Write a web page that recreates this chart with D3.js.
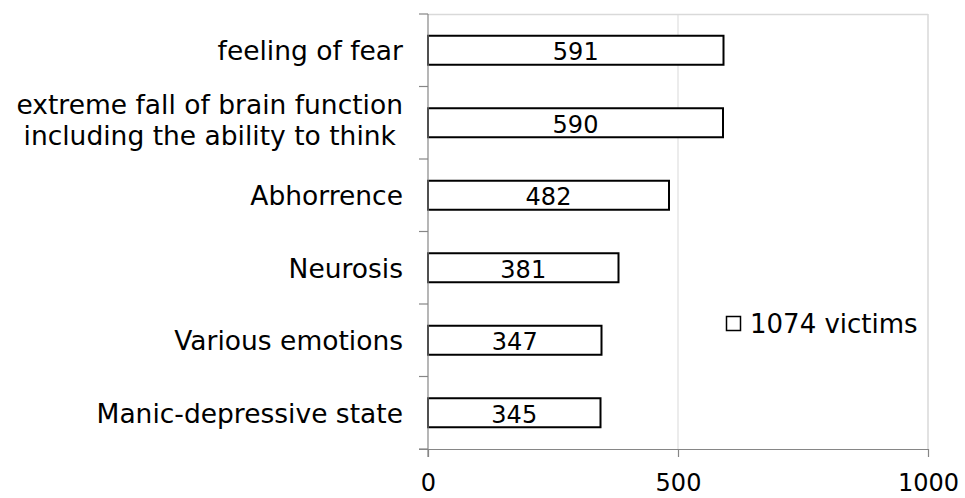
<!DOCTYPE html>
<html>
<head>
<meta charset="utf-8">
<script src="https://cdn.jsdelivr.net/npm/d3@7"></script>
<style>
  html, body { margin: 0; padding: 0; background: #fff; }
  text { font-family: "DejaVu Sans", Verdana, sans-serif; fill: #000; }
</style>
</head>
<body>
<svg id="chart" width="965" height="498"></svg>
<script>
// Symptom categories (top to bottom) and number of victims reporting each
const categories = [
  "feeling of fear",
  "extreme fall of brain function\nincluding the ability to think",
  "Abhorrence",
  "Neurosis",
  "Various emotions",
  "Manic-depressive state"
];
const values = [591, 590, 482, 381, 347, 345];
const xTicks = [0, 500, 1000];
const seriesName = "1074 victims";

const svg = d3.select("#chart");
const numSize = 24;     // numbers: axis ticks and bar values
const catSize = 26.5;   // category labels
const legSize = 26;     // legend text
const margin = { top: 14, right: 37, bottom: 49, left: 428 };
const W = 965, H = 498;
const plotW = W - margin.left - margin.right;
const plotH = H - margin.top - margin.bottom;

const x = d3.scaleLinear().domain([0, 1000]).range([0, plotW]);
const y = d3.scaleBand().domain(categories).range([0, plotH]).paddingInner(0.6).paddingOuter(0.3);

const g = svg.append("g").attr("transform", `translate(${margin.left},${margin.top})`);

// Plot area border (top and right) and vertical gridlines
g.append("line").attr("x1", 0).attr("x2", plotW).attr("y1", 0.5).attr("y2", 0.5)
  .attr("stroke", "#d9d9d9").attr("stroke-width", 1.5);
g.append("line").attr("x1", plotW).attr("x2", plotW).attr("y1", 0).attr("y2", plotH)
  .attr("stroke", "#d9d9d9").attr("stroke-width", 1.5);
g.selectAll(".grid").data(xTicks.slice(1, -1)).join("line")
  .attr("class", "grid")
  .attr("x1", d => x(d)).attr("x2", d => x(d))
  .attr("y1", 0).attr("y2", plotH)
  .attr("stroke", "#d9d9d9").attr("stroke-width", 1);

// Bars
g.selectAll(".bar").data(values).join("rect")
  .attr("class", "bar")
  .attr("x", 0)
  .attr("y", (d, i) => y(categories[i]))
  .attr("width", d => x(d))
  .attr("height", y.bandwidth())
  .attr("fill", "#fff")
  .attr("stroke", "#000")
  .attr("stroke-width", 2);

// Value labels centred in each bar
g.selectAll(".val").data(values).join("text")
  .attr("class", "val")
  .attr("x", d => x(d) / 2)
  .attr("y", (d, i) => y(categories[i]) + y.bandwidth() / 2 + 10)
  .attr("text-anchor", "middle")
  .attr("font-size", numSize)
  .text(d => d);

// Left axis: category boundaries as tick marks
const axisColor = "#868686";
g.append("line").attr("x1", 0).attr("x2", 0).attr("y1", 0).attr("y2", plotH + 8)
  .attr("stroke", axisColor).attr("stroke-width", 1.2);
const bounds = d3.range(categories.length + 1).map(i => i * plotH / categories.length);
g.selectAll(".ytick").data(bounds).join("line")
  .attr("class", "ytick")
  .attr("x1", -9).attr("x2", 0)
  .attr("y1", d => d).attr("y2", d => d)
  .attr("stroke", axisColor).attr("stroke-width", 1.2);

// Category labels (multi-line labels centred as a block, block right-aligned)
const labelRight = -25;
categories.forEach((c, i) => {
  const lines = c.split("\n");
  const multi = lines.length > 1;
  const cy = y(c) + y.bandwidth() / 2 + (multi ? 7 : 10);
  const lh = 31;
  const t = g.append("text").attr("font-size", catSize);
  lines.forEach((ln, k) => {
    t.append("tspan").attr("x", 0)
      .attr("y", cy + (k - (lines.length - 1) / 2) * lh)
      .text(ln);
  });
  const spans = t.selectAll("tspan").nodes();
  const widths = spans.map(s => s.getComputedTextLength());
  const maxW = d3.max(widths);
  if (multi) {
    spans.forEach(s => d3.select(s).attr("x", labelRight - maxW / 2).attr("text-anchor", "middle"));
  } else {
    spans.forEach(s => d3.select(s).attr("x", labelRight).attr("text-anchor", "end"));
  }
});

// Bottom axis
const xAxis = g.append("g").attr("transform", `translate(0,${plotH})`)
  .call(d3.axisBottom(x).tickValues(xTicks).tickSize(8).tickPadding(17).tickFormat(d3.format("d")));
xAxis.select(".domain").attr("stroke", axisColor).attr("stroke-width", 1.2)
  .attr("d", `M-9,0.5H${plotW}`);
xAxis.selectAll(".tick line").attr("stroke", axisColor).attr("stroke-width", 1.2);
xAxis.selectAll(".tick text").attr("font-size", numSize)
  .attr("font-family", "DejaVu Sans, Verdana, sans-serif").attr("fill", "#000");

// Legend
const legend = svg.append("g").attr("transform", "translate(726,316)");
legend.append("rect").attr("x", 0.5).attr("y", 0.5).attr("width", 14).attr("height", 14)
  .attr("fill", "#fff").attr("stroke", "#000").attr("stroke-width", 1.5);
legend.append("text").attr("x", 24).attr("y", 17)
  .attr("font-size", legSize)
  .text(seriesName);
</script>
</body>
</html>
